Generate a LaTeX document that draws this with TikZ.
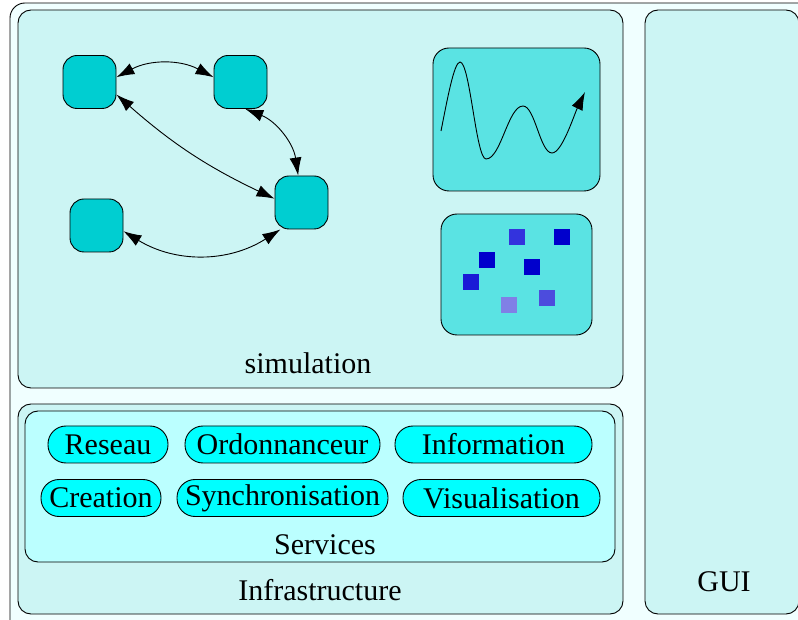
\documentclass[tikz,border=0pt]{standalone}
\usepackage{fontspec}
\setmainfont{Liberation Serif}
\usetikzlibrary{arrows.meta}
\definecolor{outerfill}{HTML}{F0FFFF}
\definecolor{boxfill}{HTML}{CCF5F4}
\definecolor{servfill}{HTML}{BBFFFF}
\definecolor{pillfill}{HTML}{00FFFF}
\definecolor{nodefill}{HTML}{00CED1}
\definecolor{panelfill}{HTML}{5AE3E3}
\definecolor{sqA}{HTML}{3333DD}
\definecolor{sqB}{HTML}{0000CC}
\definecolor{sqC}{HTML}{1A1AD6}
\definecolor{sqD}{HTML}{4C4CDD}
\definecolor{sqE}{HTML}{8080E6}
\tikzset{
  frame/.style={draw=black, line width=0.9pt, rounded corners=13pt},
  agent/.style={draw=black, line width=0.9pt, fill=nodefill, rounded corners=14pt,
    minimum width=53pt, minimum height=53pt, inner sep=0pt},
  pill/.style={draw=black, line width=0.9pt, fill=pillfill, rounded corners=18pt,
    minimum height=37pt, inner sep=0pt, font=\fontsize{30}{32}\selectfont},
  lbl/.style={font=\fontsize{30}{32}\selectfont, inner sep=0pt},
  link/.style={line width=0.9pt, {Latex[length=18pt,width=12pt]}-{Latex[length=18pt,width=12pt]}},
}
\begin{document}
\begin{tikzpicture}[x=1pt,y=1pt]
\useasboundingbox (0,0) rectangle (798,619);
% outer frame
\draw[frame, fill=outerfill, rounded corners=15pt] (10,-30) rectangle (840,616);
% main boxes
\draw[frame, fill=boxfill] (18,231) rectangle (623,609);
\draw[frame, fill=boxfill] (645,5) rectangle (799,609);
\draw[frame, fill=boxfill] (18,5) rectangle (623,215);
\draw[frame, fill=servfill] (25,57) rectangle (615,208);
% labels
\node[lbl] (simlbl) at (308,256) {simulation};
\node[lbl] (guilbl) at (724,37) {GUI};
\node[lbl] (inflbl) at (320,29) {Infrastructure};
\node[lbl] (servlbl) at (325,74) {Services};
% service pills
\node[pill, minimum width=120pt] (reseau) at (108,174.5) {Reseau};
\node[pill, minimum width=195pt] (ordo) at (282.5,174.5) {Ordonnanceur};
\node[pill, minimum width=197pt] (info) at (493.5,174.5) {Information};
\node[pill, minimum width=120pt] (creation) at (101,121) {Creation};
\node[pill, minimum width=211pt] (sync) at (282.5,121) {Synchronisation};
\node[pill, minimum width=197pt] (visu) at (501.5,121) {Visualisation};
% agents
\node[agent] (A) at (89.5,537) {};
\node[agent] (B) at (240.5,537) {};
\node[agent] (C) at (301.5,416.5) {};
\node[agent] (D) at (96.5,393.5) {};
\draw[link] (A.10) to[bend left=28] (B.170);
\draw[link] (A.-25) to[bend right=8] (C.172);
\draw[link] (B.-80) to[bend left=30] (C.97);
\draw[link] (D.-12) to[bend right=32] (C.-128);
% wave panel
\draw[frame, fill=panelfill, rounded corners=16pt] (433,428) rectangle (600,571);
\draw[line width=0.9pt, -{Latex[length=18pt,width=12pt]}]
  (441,488) .. controls (447,518) and (454,557) .. (460,557)
  .. controls (470,557) and (476,460) .. (486,460)
  .. controls (501,460) and (508,513) .. (523,513)
  .. controls (535,513) and (540,466) .. (552,466)
  .. controls (562,466) and (574,504) .. (585,527);
% particles panel
\draw[frame, fill=panelfill, rounded corners=16pt] (441,284) rectangle (592,405);
\fill[sqA] (509,374) rectangle (525,390);
\fill[sqB] (554,374) rectangle (570,390);
\fill[sqB] (479,351) rectangle (495,367);
\fill[sqB] (524,344) rectangle (540,360);
\fill[sqC] (463,329) rectangle (479,345);
\fill[sqD] (539,313) rectangle (555,329);
\fill[sqE] (501,306) rectangle (517,322);
\end{tikzpicture}
\end{document}
